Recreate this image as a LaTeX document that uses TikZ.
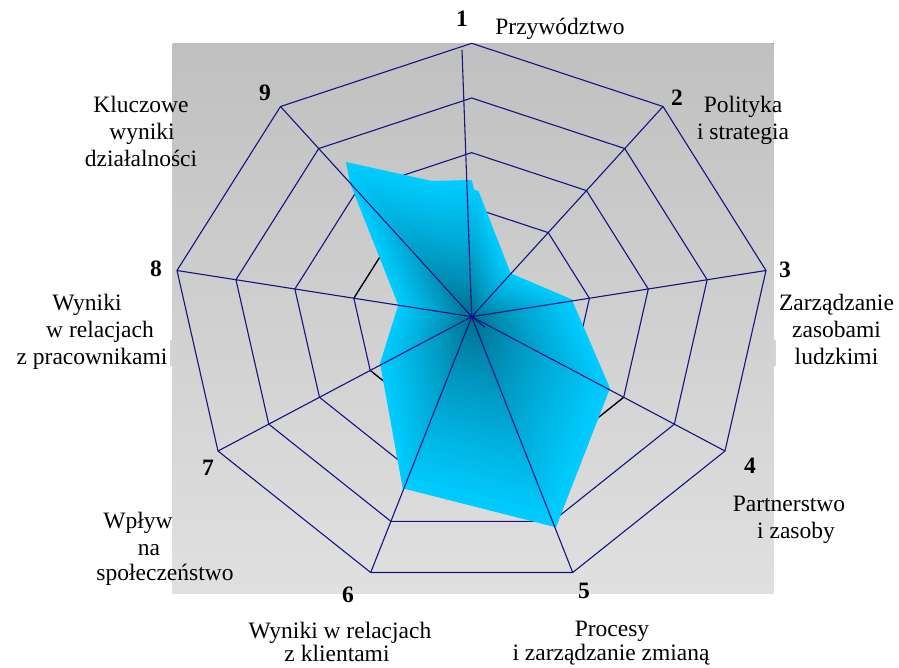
\documentclass[tikz,border=0pt]{standalone}
\usepackage{fontspec}
\setmainfont{Liberation Serif}
\usetikzlibrary{calc}
\definecolor{gridnavy}{RGB}{20,20,130}
\definecolor{bgtop}{RGB}{192,192,192}
\definecolor{bgbot}{RGB}{224,224,224}
\definecolor{bandgray}{RGB}{212,212,212}
\definecolor{fillout}{RGB}{0,204,255}
\definecolor{fillin}{RGB}{0,100,130}
\begin{document}
\begin{tikzpicture}[x=1pt,y=-1pt,
  gridline/.style={draw=gridnavy, line width=1.1pt},
  innerline/.style={draw=black, line width=1.1pt},
  lbl/.style={font=\fontsize{23.5}{27}\selectfont, inner sep=0pt, anchor=base},
  num/.style={font=\fontsize{23.5}{27}\selectfont\bfseries, inner sep=0pt, anchor=base}]
\useasboundingbox (0,0) rectangle (899,667);

% plot area
\fill[bandgray] (170,340) rectangle (776,366);
\fill[top color=bgtop, bottom color=bgbot] (172.5,43) rectangle (773.5,593);

% centre and outer vertices of the nine axes
\coordinate (C)  at (471.7,316.7);
\coordinate (V1) at (471.7,43.3);
\coordinate (V2) at (663,106.5);
\coordinate (V3) at (766,270.5);
\coordinate (V4) at (725,451);
\coordinate (V5) at (572.7,572.5);
\coordinate (V6) at (370.7,572.5);
\coordinate (V7) at (218,451);
\coordinate (V8) at (177,270.5);
\coordinate (V9) at (280.5,106.5);

% concentric rings
\foreach \f in {0.2,0.4,0.6,0.8,1}
  \draw[gridline, line join=miter]
    ($(C)!\f!(V1)$) -- ($(C)!\f!(V2)$) -- ($(C)!\f!(V3)$) -- ($(C)!\f!(V4)$) --
    ($(C)!\f!(V5)$) -- ($(C)!\f!(V6)$) -- ($(C)!\f!(V7)$) -- ($(C)!\f!(V8)$) --
    ($(C)!\f!(V9)$) -- cycle;
\draw[innerline] ($(C)!0.4!(V9)$) -- ($(C)!0.4!(V8)$);
\draw[innerline] ($(C)!0.4!(V7)$) -- ($(C)!0.4!(V6)$);
\draw[innerline] ($(C)!0.6!(V4)$) -- ($(C)!0.6!(V5)$);

% data outline
\coordinate (P9t) at (346,162);
\coordinate (Pa)  at (432,181);
\coordinate (P1)  at (471.7,180);
\coordinate (Pb)  at (474,189.5);
\coordinate (Pc)  at (478.5,191);
\coordinate (P2)  at (510.7,273.3);
\coordinate (P3)  at (571.7,299.3);
\coordinate (P4)  at (610,388.3);
\coordinate (P5)  at (556,527.3);
\coordinate (P6)  at (402.7,488.3);
\coordinate (P7)  at (380,363.3);
\coordinate (P8)  at (398.3,305);
\coordinate (P9)  at (350,183);
\newcommand\dataoutline[1]{($(C)!#1!(P9t)$) -- ($(C)!#1!(Pa)$) -- ($(C)!#1!(P1)$) --
  ($(C)!#1!(Pb)$) -- ($(C)!#1!(Pc)$) -- ($(C)!#1!(P2)$) -- ($(C)!#1!(P3)$) --
  ($(C)!#1!(P4)$) -- ($(C)!#1!(P5)$) -- ($(C)!#1!(P6)$) -- ($(C)!#1!(P7)$) --
  ($(C)!#1!(P8)$) -- ($(C)!#1!(P9)$) -- cycle}

% filled area, darkening towards the centre
\foreach \i in {0,...,44} {
  \pgfmathsetmacro\s{1-\i/45}
  \pgfmathsetmacro\p{100*(\s)^0.7}
  \fill[fillout!\p!fillin] \dataoutline{\s};
}

% axes
\coordinate (A1) at (462,50);
\coordinate (T)  at (485,327.3);
\draw[gridline] (C) -- (A1);
\foreach \v in {V2,V3,V4,V5,V6,V7,V8,V9}
  \draw[gridline] (C) -- (\v);
\draw[gridline] (C) -- (T);

% axis numbers
\node[num] (n1) at (462,26.7) {1};
\node[num] (n2) at (677,105) {2};
\node[num] (n3) at (785,277) {3};
\node[num] (n4) at (750,473) {4};
\node[num] (n5) at (584,598) {5};
\node[num] (n6) at (348,602) {6};
\node[num] (n7) at (208,475) {7};
\node[num] (n8) at (156,276) {8};
\node[num] (n9) at (265,100) {9};

% axis titles
\node[lbl] (t1)  at (560,34.3) {Przywództwo};
\node[lbl] (t2a) at (743,112) {Polityka};
\node[lbl] (t2b) at (743,139) {i strategia};
\node[lbl] (t3a) at (836.5,310) {Zarządzanie};
\node[lbl] (t3b) at (836.5,337) {zasobami};
\node[lbl] (t3c) at (836.5,364) {ludzkimi};
\node[lbl] (t4a) at (789,511) {Partnerstwo};
\node[lbl] (t4b) at (796,538) {i zasoby};
\node[lbl] (t5a) at (612,636) {Procesy};
\node[lbl] (t5b) at (611,660) {i zarządzanie zmianą};
\node[lbl] (t6a) at (340,638) {Wyniki w relacjach};
\node[lbl] (t6b) at (337,661) {z klientami};
\node[lbl] (t7a) at (138,528) {Wpływ};
\node[lbl] (t7b) at (149,555) {na};
\node[lbl] (t7c) at (165,580) {społeczeństwo};
\node[lbl] (t8a) at (87,310) {Wyniki};
\node[lbl] (t8b) at (100,337) {w relacjach};
\node[lbl] (t8c) at (92,364) {z pracownikami};
\node[lbl] (t9a) at (141,112) {Kluczowe};
\node[lbl] (t9b) at (142,139) {wyniki};
\node[lbl] (t9c) at (141,166) {działalności};
\end{tikzpicture}
\end{document}
